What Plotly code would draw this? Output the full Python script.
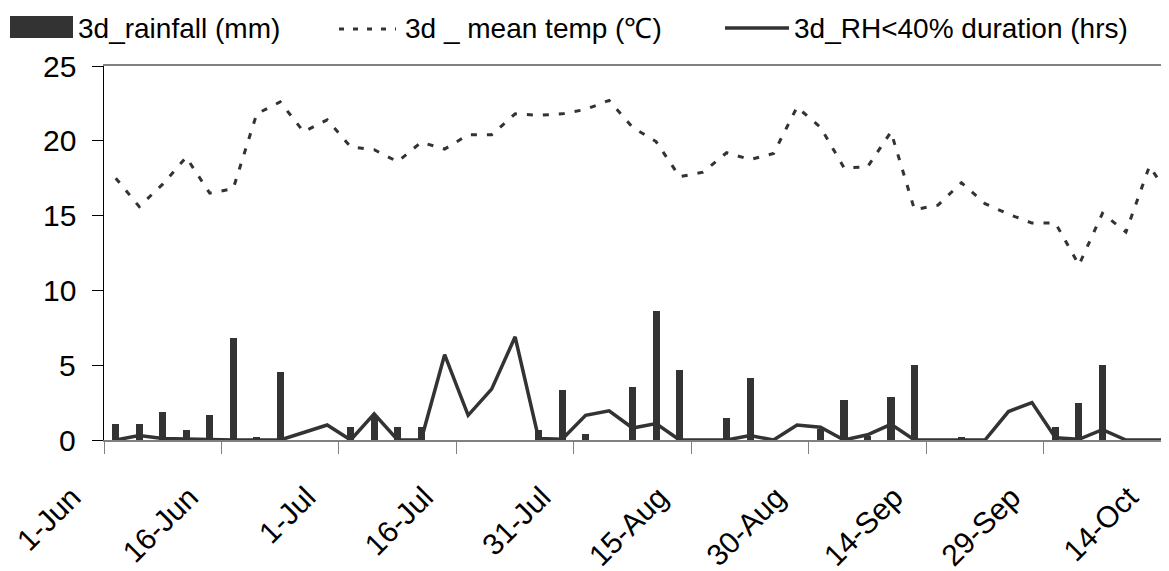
import pandas as pd
import plotly.graph_objects as go

# ---- data (every 3 days) ----
dates = ["2023-06-02", "2023-06-05", "2023-06-08", "2023-06-11", "2023-06-14", "2023-06-17",
         "2023-06-20", "2023-06-23", "2023-06-26", "2023-06-29", "2023-07-02", "2023-07-05",
         "2023-07-08", "2023-07-11", "2023-07-14", "2023-07-17", "2023-07-20", "2023-07-23",
         "2023-07-26", "2023-07-29", "2023-08-01", "2023-08-04", "2023-08-07", "2023-08-10",
         "2023-08-13", "2023-08-16", "2023-08-19", "2023-08-22", "2023-08-25", "2023-08-28",
         "2023-08-31", "2023-09-03", "2023-09-06", "2023-09-09", "2023-09-12", "2023-09-15",
         "2023-09-18", "2023-09-21", "2023-09-24", "2023-09-27", "2023-09-30", "2023-10-03",
         "2023-10-06", "2023-10-09", "2023-10-12", "2023-10-15"]

rainfall = [1.05, 1.05, 1.9, 0.7, 1.7, 6.85, 0.2, 4.55, 0, 0, 0.85, 1.6,
            0.85, 0.85, 0, 0, 0, 0, 0.65, 3.35, 0.4, 0, 3.55, 8.65,
            4.7, 0, 1.45, 4.15, 0, 0, 0.75, 2.7, 0.3, 2.85, 5.0, 0,
            0.2, 0, 0, 0, 0.85, 2.5, 5.0, 0, 0, 0]

mean_temp = [17.5, 15.6, 17.1, 18.9, 16.5, 16.8, 21.8, 22.6, 20.6, 21.4, 19.6, 19.4,
             18.6, 19.9, 19.45, 20.4, 20.4, 21.8, 21.7, 21.8, 22.1, 22.7, 20.9, 19.95,
             17.6, 17.9, 19.2, 18.75, 19.15, 22.25, 20.9, 18.2, 18.25, 20.6, 15.4, 15.7,
             17.2, 15.8, 15.1, 14.5, 14.5, 11.7, 15.15, 13.9, 18.3, 16.0]

rh_duration = [0.0, 0.3, 0.1, 0.05, 0, 0, 0, 0, 0.5, 1.0, 0, 1.75,
               0, 0, 5.7, 1.65, 3.4, 6.9, 0.1, 0.05, 1.65, 1.95, 0.8, 1.1,
               0, 0, 0, 0.3, 0, 1.0, 0.85, 0, 0.35, 1.05, 0, 0,
               0, 0, 1.9, 2.5, 0.15, 0.05, 0.7, 0, 0, 0]

tick_dates = ["2023-06-01", "2023-06-16", "2023-07-01", "2023-07-16", "2023-07-31",
              "2023-08-15", "2023-08-30", "2023-09-14", "2023-09-29", "2023-10-14"]
tick_labels = ["1-Jun", "16-Jun", "1-Jul", "16-Jul", "31-Jul",
               "15-Aug", "30-Aug", "14-Sep", "29-Sep", "14-Oct"]

y_ticks = [0, 5, 10, 15, 20, 25]

# ---- layout constants ----
OFF = 8                      # default page body margin
W, H = 1169 - OFF, 571 - OFF
ML, MR, MT = 104 - OFF, 0, 66 - OFF
MB = H - MT - (440 - 66)
DARK = "#333333"
FONT = "Liberation Sans, Arial, sans-serif"

# each date occupies a one-day slot; marks sit at slot centre
x = pd.to_datetime(dates) + pd.Timedelta(hours=12)

fig = go.Figure()
fig.add_trace(go.Bar(x=x, y=rainfall, name="3d_rainfall (mm)",
                     marker=dict(color=DARK, line=dict(width=0)),
                     width=0.9 * 86400000, showlegend=False))
fig.add_trace(go.Scatter(x=x, y=mean_temp, mode="lines", name="3d _ mean temp (\u2103)",
                         line=dict(color=DARK, width=3, dash="6px,10px"), showlegend=False))
fig.add_trace(go.Scatter(x=x, y=rh_duration, mode="lines", name="3d_RH<40% duration (hrs)",
                         line=dict(color=DARK, width=3.5), showlegend=False))

pw = W - ML - MR
ph = H - MT - MB


def px_x(p):
    return (p - OFF - ML) / pw


def px_y(p):
    return (H - MB - (p - OFF)) / ph


shapes = [
    dict(type="rect", xref="paper", yref="paper", x0=px_x(10), x1=px_x(73),
         y0=px_y(38), y1=px_y(16), fillcolor=DARK, line=dict(width=0)),
    dict(type="line", xref="paper", yref="paper", x0=px_x(339), x1=px_x(396),
         y0=px_y(29), y1=px_y(29), line=dict(color=DARK, width=3, dash="5px,9px")),
    dict(type="line", xref="paper", yref="paper", x0=px_x(725), x1=px_x(789),
         y0=px_y(28), y1=px_y(28), line=dict(color=DARK, width=3.5)),
]
legend_texts = [("3d_rainfall (mm)", 76), ("3d _ mean temp (\u2103)", 403),
                ("3d_RH<40% duration (hrs)", 792)]
annotations = [dict(text=t, xref="paper", yref="paper", x=px_x(p), y=px_y(28),
                    xanchor="left", yanchor="middle", showarrow=False,
                    font=dict(size=28, color="black", family=FONT))
               for t, p in legend_texts]
# y tick labels (placed as text to the left of the axis)
annotations += [dict(text=str(v), xref="paper", yref="y", x=px_x(78), y=v,
                     xanchor="right", yanchor="middle", showarrow=False,
                     font=dict(size=30, color="black", family=FONT))
                for v in y_ticks]

fig.update_layout(
    width=W, height=H,
    margin=dict(l=ML, r=MR, t=MT, b=MB),
    paper_bgcolor="white", plot_bgcolor="white",
    font=dict(family=FONT, color="black"),
    bargap=0,
    shapes=shapes,
    annotations=annotations,
    showlegend=False,
)
fig.update_xaxes(
    type="date", automargin=False,
    range=["2023-06-01", "2023-10-15"],
    tickmode="array", tickvals=tick_dates, ticktext=tick_labels,
    tickangle=-45, tickfont=dict(size=30, family=FONT, color="black"),
    ticklabelshift=-32, ticklabelstandoff=14, ticklabeloverflow="allow",
    ticks="outside", ticklen=12, tickcolor="#808080", tickwidth=1.3,
    showline=True, linecolor="#808080", linewidth=1.5, mirror=True,
    showgrid=False, zeroline=False, layer="below traces",
)
fig.update_yaxes(
    automargin=False,
    range=[0, 25], tickmode="array", tickvals=y_ticks, showticklabels=False,
    ticks="outside", ticklen=11, tickcolor="black", tickwidth=1.3,
    showline=True, linecolor="black", linewidth=1.3,
    showgrid=False, zeroline=False,
)

fig.write_html("out.html")
